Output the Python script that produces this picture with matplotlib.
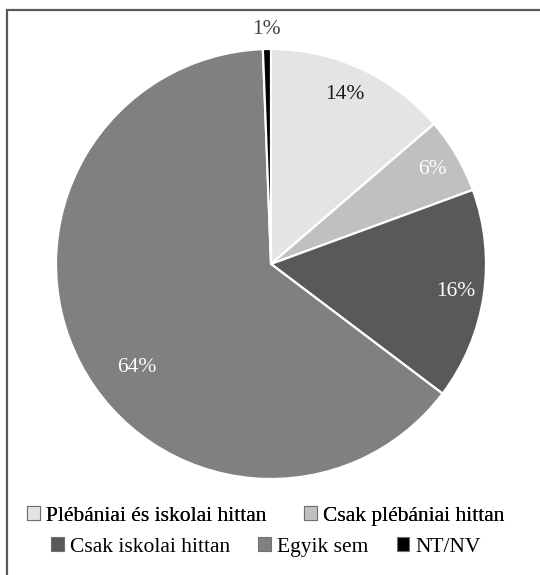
import numpy as np
import matplotlib
matplotlib.use("Agg")
import matplotlib.pyplot as plt
from matplotlib.patches import Rectangle

plt.rcParams['font.family'] = ['Liberation Serif', 'DejaVu Serif']

# data
categories = ['Plébániai és iskolai hittan', 'Csak plébániai hittan',
              'Csak iskolai hittan', 'Egyik sem', 'NT/NV']
shares = [13.7, 5.7, 15.9, 64.1, 0.6]
colors = ['#e4e4e4', '#c0c0c0', '#595959', '#808080', '#000000']
label_colors = ['#1a1a1a', 'white', 'white', 'white', '#404040']
# radial distance of each percent label, and small angle nudge (deg)
label_dist = [0.86, 0.87, 0.87, 0.79, 1.09]
label_nudge = [1, 0, 0, 10, 0]

fig = plt.figure(figsize=(5.40, 5.75), dpi=100)
ax = fig.add_axes([56/540, 1 - 479/575, 430/540, 430/575])

wedges, _ = ax.pie(shares, colors=colors, startangle=90, counterclock=False,
                   wedgeprops=dict(edgecolor='white', linewidth=1.6))
ax.set_xlim(-1, 1)
ax.set_ylim(-1, 1)
ax.set_aspect('equal')
ax.axis('off')

for w, v, d, nd, c in zip(wedges, shares, label_dist, label_nudge, label_colors):
    ang = np.deg2rad((w.theta1 + w.theta2) / 2 + nd)
    ax.text(d*np.cos(ang), d*np.sin(ang), '%.0f%%' % v, ha='center', va='center',
            fontsize=15.5, color=c)

# outer frame (only the left and top edges are visible in the crop)
fig.add_artist(Rectangle((7/540, -0.2), 1.5, 1.2 - 10/575, transform=fig.transFigure,
                         fill=False, edgecolor='#5a5a5a', linewidth=1.6))

leg_kw = dict(frameon=False, fontsize=15.5, handlelength=0.58, handleheight=0.58,
              handletextpad=0.3, borderpad=0, borderaxespad=0, loc='center')
leg1 = fig.legend(wedges[:2], categories[:2], ncol=2, columnspacing=1.75,
                  bbox_to_anchor=(266/540, 1 - 516/575), **leg_kw)
leg2 = fig.legend(wedges[2:], categories[2:], ncol=3, columnspacing=1.3,
                  bbox_to_anchor=(266/540, 1 - 547/575), **leg_kw)
for leg in (leg1, leg2):
    for h in leg.legend_handles:
        h.set_edgecolor('#707070')
        h.set_linewidth(0.8)
fig.add_artist(leg1)

fig.savefig('out.png', dpi=100)
